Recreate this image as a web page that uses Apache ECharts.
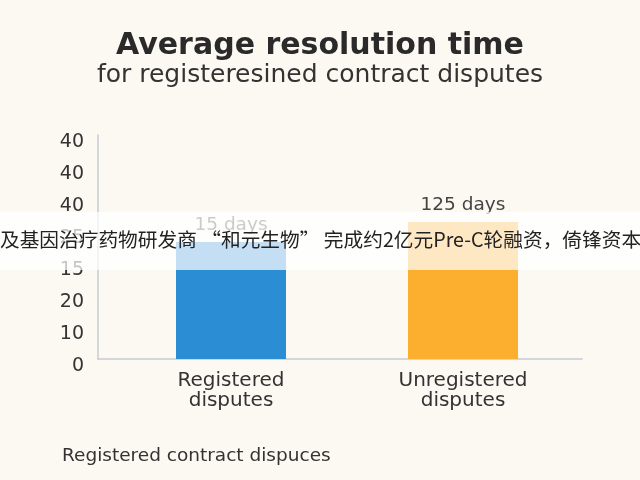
<!DOCTYPE html>
<html><head><meta charset="utf-8">
<script src="https://cdn.jsdelivr.net/npm/echarts@6/dist/echarts.min.js"></script>
<style>html,body{margin:0;padding:0;background:#fcf9f3}#c{width:640px;height:480px}</style>
</head><body><div id="c"></div>
<script>
var categories = ['Registered\ndisputes', 'Unregistered\ndisputes'];
var values = [36.6, 42.8];
var valueLabels = ['15 days', '125 days'];
var barColors = ['#2b8dd3', '#fcae2e'];
var yTickLabels = ['0', '10', '20', '15', '25', '40', '40', '40'];
var titleText = 'Average resolution time';
var subtitleText = 'for registeresined contract disputes';
var footnote = 'Registered contract dispuces';
var bannerText = '及基因治疗药物研发商 “和元生物” 完成约2亿元Pre-C轮融资，倚锋资本';

var FONT = '"DejaVu Sans", sans-serif';
var chart = echarts.init(document.getElementById('c'), null, {renderer: 'canvas'});
chart.setOption({
  backgroundColor: '#fcf9f3',
  animation: false,
  title: [{
    text: titleText,
    subtext: subtitleText,
    left: 'center',
    top: 26,
    itemGap: 2,
    textStyle: {fontFamily: FONT, fontSize: 30, fontWeight: 'bold', color: '#2a2a2a'},
    subtextStyle: {fontFamily: FONT, fontSize: 25, color: '#333333'}
  }, {
    text: footnote,
    left: 57,
    top: 442,
    textStyle: {fontFamily: FONT, fontSize: 18.5, fontWeight: 'normal', color: '#333333'}
  }],
  grid: [
    {left: 115, right: 61, top: 135, bottom: 121},
    {left: 98, right: 58, top: 135, bottom: 121}
  ],
  xAxis: [{
    type: 'category', gridIndex: 0, data: categories,
    axisLine: {show: false}, axisTick: {show: false},
    axisLabel: {fontFamily: FONT, fontSize: 20, color: '#333333', lineHeight: 20, margin: 12}
  }, {
    type: 'value', gridIndex: 1, min: 0, max: 1,
    axisLine: {show: true, lineStyle: {color: '#c5cbd6', width: 1.5}},
    axisTick: {show: false}, axisLabel: {show: false}, splitLine: {show: false}
  }],
  yAxis: [{
    type: 'value', gridIndex: 0, min: 0, max: 70, interval: 10, show: false
  }, {
    type: 'value', gridIndex: 1, min: 0, max: 70, interval: 10,
    axisLine: {show: true, lineStyle: {color: '#c5cbd6', width: 1.5}},
    axisTick: {show: false}, splitLine: {show: false},
    axisLabel: {
      fontFamily: FONT, fontSize: 19, color: '#333333', margin: 14,
      verticalAlign: 'top', lineHeight: 14,
      formatter: function (v) { return yTickLabels[Math.round(v / 10)]; }
    }
  }],
  series: [{
    type: 'bar', xAxisIndex: 0, yAxisIndex: 0,
    barWidth: 110,
    data: values.map(function (v, i) { return {value: v, itemStyle: {color: barColors[i]}}; }),
    label: {
      show: true, position: 'top', distance: 7,
      fontFamily: FONT, fontSize: 18.5, color: '#444444',
      formatter: function (p) { return valueLabels[p.dataIndex]; }
    }
  }],
  graphic: [{
    type: 'rect', z: 100,
    shape: {x: 0, y: 212, width: 640, height: 58},
    style: {fill: 'rgba(255,255,255,0.72)'}
  }, {
    type: 'text', z: 101, x: 0, y: 240,
    style: {text: bannerText, font: '19.7px "Noto Sans CJK SC"', fill: '#222222', verticalAlign: 'middle', align: 'left'}
  }]
});
</script></body></html>
